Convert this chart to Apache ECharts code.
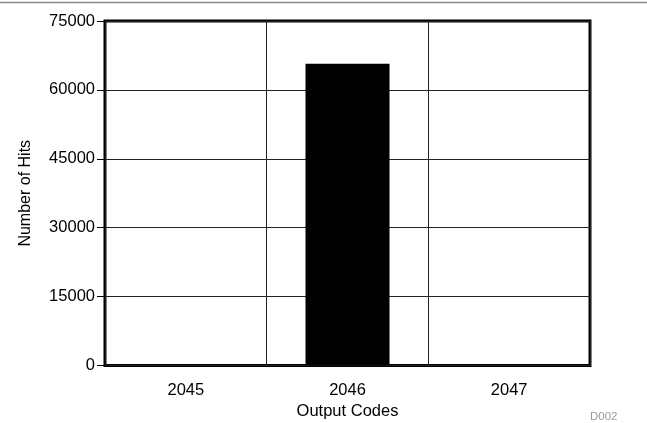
<!DOCTYPE html>
<html>
<head>
<meta charset="utf-8">
<script src="https://cdn.jsdelivr.net/npm/echarts@6/dist/echarts.min.js"></script>
<style>
html,body{margin:0;padding:0;background:#fff;}
#chart{width:647px;height:423px;}
</style>
</head>
<body>
<div id="chart"></div>
<script>
const categories = ['2045', '2046', '2047'];
const hits = [0, 65700, 0];
const yMin = 0, yMax = 75000, yStep = 15000;
const xTitle = 'Output Codes';
const yTitle = 'Number of Hits';
const figureTag = 'D002';

const FONT = '"Liberation Sans", Arial, Helvetica, sans-serif';
const chart = echarts.init(document.getElementById('chart'), null, {renderer: 'canvas'});
chart.setOption({
  animation: false,
  backgroundColor: '#fff',
  textStyle: {fontFamily: FONT},
  grid: {
    left: 105, right: 57, top: 21, bottom: 57.5,
    show: true, borderColor: '#000', borderWidth: 3, backgroundColor: 'transparent',
    containLabel: false,
    outerBoundsMode: 'none'
  },
  xAxis: {
    type: 'category',
    data: categories,
    boundaryGap: true,
    axisLine: {show: false},
    axisTick: {show: false},
    axisLabel: {color: '#000', fontSize: 16.5, fontFamily: FONT, margin: 16},
    splitLine: {show: true, interval: 0, lineStyle: {color: '#222', width: 1}},
    name: xTitle,
    nameLocation: 'middle',
    nameGap: 27,
    nameTextStyle: {color: '#000', fontSize: 16.5, fontFamily: FONT}
  },
  yAxis: {
    type: 'value',
    min: yMin, max: yMax, interval: yStep,
    axisLine: {show: false},
    axisTick: {show: true, length: 8, lineStyle: {color: '#000', width: 1}},
    axisLabel: {color: '#000', fontSize: 16.5, fontFamily: FONT, margin: 10,
      formatter: v => String(v)},
    splitLine: {show: true, lineStyle: {color: '#222', width: 1}},
    name: yTitle,
    nameLocation: 'middle',
    nameGap: 71,
    nameTextStyle: {color: '#000', fontSize: 16, fontFamily: FONT}
  },
  series: [{
    type: 'bar',
    data: hits,
    barWidth: 84,
    itemStyle: {color: '#000'}
  }],
  graphic: [
    {type: 'line', shape: {x1: 0, y1: 2.5, x2: 647, y2: 2.5}, style: {stroke: '#888', lineWidth: 1.5}, silent: true},
    {type: 'text', left: 590, top: 411, style: {text: figureTag, fill: '#999', fontSize: 11.5, fontFamily: FONT}}
  ]
});
</script>
</body>
</html>
